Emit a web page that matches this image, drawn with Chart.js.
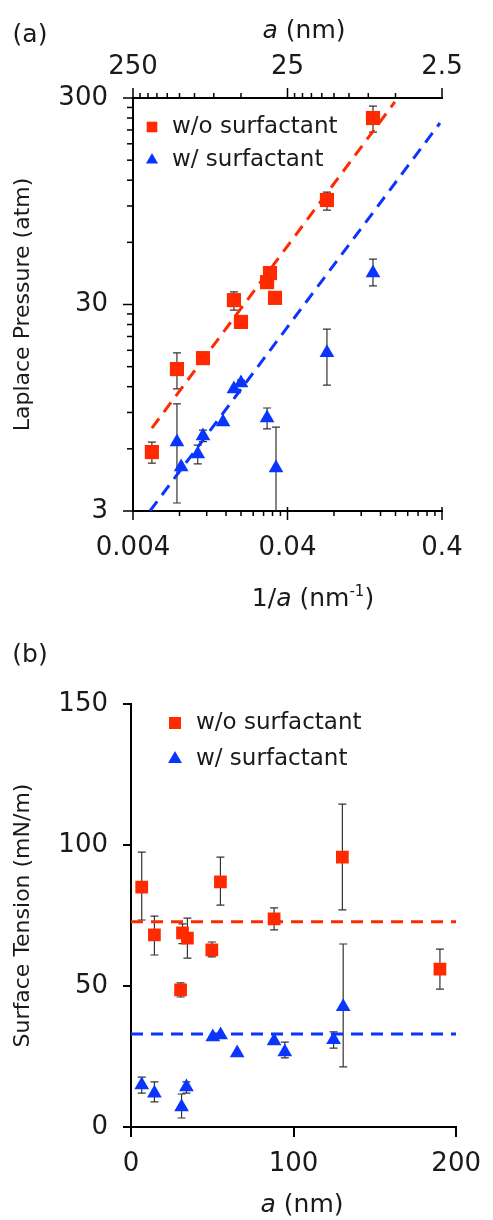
<!DOCTYPE html>
<html>
<head>
<meta charset="utf-8">
<script src="https://cdn.jsdelivr.net/npm/chart.js@4.4.1/dist/chart.umd.min.js"></script>
<style>
body { margin: 0; background: #fff; }
#page { position: relative; width: 493px; height: 1220px; font-family: "DejaVu Sans"; color: #1a1a1a; }
.box { position: absolute; left: 0; width: 493px; }
.lbl { position: absolute; font-size: 25px; white-space: nowrap; transform: translate(-50%, -50%); }
.lbl sup { font-size: 15px; }
</style>
</head>
<body>
<div id="page">
  <div class="box" style="top:0;height:620px"><canvas id="chartA"></canvas></div>
  <div class="box" style="top:620px;height:600px"><canvas id="chartB"></canvas></div>
  <div class="lbl" style="left:30px;top:33px">(a)</div>
  <div class="lbl" style="left:304px;top:29px"><i>a</i> (nm)</div>
  <div class="lbl" style="left:313px;top:597px">1/<i>a</i> (nm<sup>-1</sup>)</div>
  <div class="lbl" style="left:30px;top:653px">(b)</div>
  <div class="lbl" style="left:302px;top:1203px"><i>a</i> (nm)</div>
</div>
<script>
// ---- panel (a): Laplace pressure vs 1/a (log-log) ----
const invRed = [0.0053, 0.0077, 0.01135, 0.018, 0.020, 0.0295, 0.0308, 0.0332, 0.072, 0.143];
const pRed = [5.79, 14.6, 16.5, 31.5, 24.7, 38.5, 42.6, 32.3, 96.2, 240];
const pRedErr = [[5.12, 6.47], [11.7, 17.5], null, [28.2, 34.5], null, [36, 42.5], null, null, [86, 105], [205, 274]];

const invBlue = [0.0077, 0.0082, 0.0105, 0.01135, 0.0153, 0.018, 0.020, 0.0295, 0.0337, 0.072, 0.143];
const pBlue = [6.47, 4.9, 5.66, 6.92, 8.09, 11.7, 12.5, 8.46, 4.85, 17.5, 42.6];
const pBlueErr = [[3.28, 9.9], null, [5.07, 6.26], [6.5, 7.4], null, null, [12.1, 12.9], [7.49, 9.46], [2.0, 7.65], [12.2, 22.8], [36.9, 49.8]];

// dashed fit lines, endpoints
const fitRedX = [0.0053, 0.198];
const fitRedY = [7.56, 287];
const fitBlueX = [0.00515, 0.388];
const fitBlueY = [3, 227];

// axis ticks
const xMajor = [0.004, 0.04, 0.4];
const xMajorLabels = ['0.004', '0.04', '0.4'];
const xMinor = [0.008, 0.012, 0.016, 0.02, 0.024, 0.028, 0.032, 0.036, 0.08, 0.12, 0.16, 0.2, 0.24, 0.28, 0.32, 0.36];
const aMajor = [250, 25, 2.5];
const aMajorLabels = ['250', '25', '2.5'];
const aMinor = [225, 200, 175, 150, 125, 100, 75, 50, 22.5, 20, 17.5, 15, 12.5, 10, 7.5, 5];
const yMajor = [3, 30, 300];
const yMajorLabels = ['3', '30', '300'];
const yMinor = [6, 9, 12, 15, 18, 21, 24, 27, 60, 90, 120, 150, 180, 210, 240, 270];

// ---- panel (b): surface tension vs a ----
const aRed = [6.6, 14.4, 30.5, 31.7, 34.7, 49.7, 55, 88, 130, 190];
const gRed = [85.1, 68.1, 48.6, 68.8, 67.0, 62.8, 86.9, 73.8, 95.7, 56.0];
const gRedErr = [[73.4, 97.5], [61, 74.8], [46.1, 51.1], [65, 72], [59.9, 74.1], [60.3, 65.6], [78.7, 95.7], [69.9, 77.7], [77, 114.5], [48.9, 63.1]];

const aBlue = [6.6, 14.4, 31.1, 34.1, 50.3, 55.1, 65.3, 88, 94.6, 124.6, 130.5];
const gBlue = [14.9, 12.0, 7.1, 14.2, 31.9, 32.6, 26.2, 30.5, 26.6, 30.9, 42.6];
const gBlueErr = [[12, 17.7], [8.9, 16.0], [3.2, 11.7], [12, 16], null, null, null, null, [24.5, 30.1], [28, 33.7], [21.3, 64.9]];

const meanX = [0, 200];
const meanRed = [72.8, 72.8];
const meanBlue = [33, 33];

const RED = '#ff2a00';
const BLUE = '#0a35ff';
const INK = '#1a1a1a';

Chart.defaults.font.family = 'DejaVu Sans';
Chart.defaults.font.size = 26;
Chart.defaults.color = INK;

const pts = (xs, ys) => xs.map((x, i) => ({ x: x, y: ys[i] }));

// error bars drawn under the markers
const errorBars = {
  id: 'errorBars',
  beforeDatasetsDraw(chart) {
    const { ctx, chartArea } = chart;
    ctx.save();
    ctx.beginPath();
    ctx.rect(chartArea.left, chartArea.top, chartArea.width, chartArea.height);
    ctx.clip();
    ctx.strokeStyle = '#333';
    ctx.lineWidth = 1.2;
    chart.data.datasets.forEach(ds => {
      if (!ds.errors) return;
      const xs = chart.scales.x, ys = chart.scales.y;
      ds.data.forEach((pt, j) => {
        const e = ds.errors[j];
        if (!e) return;
        const x = xs.getPixelForValue(pt.x);
        const y1 = ys.getPixelForValue(e[0]);
        const y2 = ys.getPixelForValue(e[1]);
        ctx.beginPath();
        ctx.moveTo(x, y1); ctx.lineTo(x, y2);
        ctx.moveTo(x - 4, y1); ctx.lineTo(x + 4, y1);
        ctx.moveTo(x - 4, y2); ctx.lineTo(x + 4, y2);
        ctx.stroke();
      });
    });
    ctx.restore();
  }
};

// legend inside the plot
const boxLegend = {
  id: 'boxLegend',
  afterDraw(chart, args, opts) {
    const ctx = chart.ctx;
    ctx.save();
    ctx.font = '23px "DejaVu Sans"';
    ctx.textBaseline = 'middle';
    opts.items.forEach(it => {
      const ds = chart.data.datasets[it.dataset];
      ctx.fillStyle = ds.backgroundColor;
      Chart.helpers.drawPoint(ctx, { pointStyle: ds.pointStyle, radius: it.r, rotation: 0, borderWidth: 0 }, it.x, it.y);
      ctx.fillStyle = INK;
      ctx.fillText(ds.label, it.tx, it.y);
    });
    ctx.restore();
  }
};

// major + minor tick marks on the log axes
const logTicks = {
  id: 'logTicks',
  afterDraw(chart, args, opts) {
    const ctx = chart.ctx;
    ctx.save();
    ctx.strokeStyle = '#000';
    ctx.lineWidth = 1.5;
    opts.marks.forEach(m => {
      const s = chart.scales[m.scale];
      m.values.forEach(v => {
        const p = s.getPixelForValue(v);
        ctx.beginPath();
        if (m.scale === 'x2') {
          ctx.moveTo(p, s.bottom); ctx.lineTo(p, s.bottom - m.len);
        } else if (m.scale === 'x') {
          ctx.moveTo(p, s.top - m.inner); ctx.lineTo(p, s.top + m.len);
        } else {
          ctx.moveTo(s.right + m.inner, p); ctx.lineTo(s.right - m.len, p);
        }
        ctx.stroke();
      });
    });
    ctx.restore();
  }
};

const symbolSets = (xs1, ys1, e1, xs2, ys2, e2, rSq, rTri) => [
  { label: 'w/o surfactant', data: pts(xs1, ys1), errors: e1, pointStyle: 'rect', pointRadius: rSq,
    backgroundColor: RED, borderColor: RED, borderWidth: 0, order: 0 },
  { label: 'w/ surfactant', data: pts(xs2, ys2), errors: e2, pointStyle: 'triangle', pointRadius: rTri,
    backgroundColor: BLUE, borderColor: BLUE, borderWidth: 0, order: 1 }
];
const dashSet = (xs, ys, color) => ({
  data: pts(xs, ys), showLine: true, pointRadius: 0, borderColor: color, borderWidth: 3,
  borderDash: [12, 8], fill: false, order: 5
});

new Chart(document.getElementById('chartA'), {
  type: 'scatter',
  data: {
    datasets: symbolSets(invRed, pRed, pRedErr, invBlue, pBlue, pBlueErr, 10, 8.5)
      .concat([dashSet(fitRedX, fitRedY, RED), dashSet(fitBlueX, fitBlueY, BLUE)])
  },
  options: {
    responsive: true,
    maintainAspectRatio: false,
    animation: false,
    layout: { padding: { left: 0, right: 51, top: 0, bottom: 0 } },
    plugins: {
      legend: { display: false },
      tooltip: { enabled: false },
      boxLegend: { items: [
        { dataset: 0, x: 152, y: 127, r: 7.5, tx: 172 },
        { dataset: 1, x: 152, y: 160, r: 7, tx: 172 }
      ] },
      logTicks: { marks: [
        { scale: 'x', values: xMajor, len: 9, inner: 4 },
        { scale: 'x', values: xMinor, len: 5, inner: 0 },
        { scale: 'x2', values: aMajor, len: 10, inner: 0 },
        { scale: 'x2', values: aMinor, len: 5, inner: 0 },
        { scale: 'y', values: yMajor, len: 10, inner: 0 },
        { scale: 'y', values: yMinor, len: 6, inner: 0 }
      ] }
    },
    scales: {
      x: {
        type: 'logarithmic', position: 'bottom', min: 0.004, max: 0.4,
        afterFit: s => { s.height = 109; },
        afterBuildTicks: s => { s.ticks = xMajor.map(v => ({ value: v })); },
        grid: { drawOnChartArea: false, drawTicks: false },
        border: { color: '#000', width: 2 },
        ticks: { padding: 22, autoSkip: false, maxRotation: 0,
          callback: v => xMajorLabels[xMajor.indexOf(v)] }
      },
      x2: {
        type: 'logarithmic', position: 'top', min: 2.5, max: 250, reverse: true,
        afterFit: s => { s.height = 98; },
        afterBuildTicks: s => { s.ticks = aMajor.map(v => ({ value: v })); },
        grid: { drawOnChartArea: false, drawTicks: false },
        border: { color: '#000', width: 2 },
        ticks: { padding: 15, autoSkip: false, maxRotation: 0,
          callback: v => aMajorLabels[aMajor.indexOf(v)] }
      },
      y: {
        type: 'logarithmic', position: 'left', min: 3, max: 300,
        afterFit: s => { s.width = 133; },
        afterBuildTicks: s => { s.ticks = yMajor.map(v => ({ value: v })); },
        grid: { drawOnChartArea: false, drawTicks: false },
        border: { color: '#000', width: 2 },
        ticks: { padding: 25, autoSkip: false,
          callback: v => yMajorLabels[yMajor.indexOf(v)] },
        title: { display: true, text: 'Laplace Pressure (atm)', font: { size: 22 }, padding: { top: 10, bottom: 0 } }
      }
    }
  },
  plugins: [errorBars, logTicks, boxLegend]
});

new Chart(document.getElementById('chartB'), {
  type: 'scatter',
  data: {
    datasets: symbolSets(aRed, gRed, gRedErr, aBlue, gBlue, gBlueErr, 9, 8.5)
      .concat([dashSet(meanX, meanRed, RED), dashSet(meanX, meanBlue, BLUE)])
  },
  options: {
    responsive: true,
    maintainAspectRatio: false,
    animation: false,
    layout: { padding: { left: 0, right: 28, top: 84, bottom: 0 } },
    plugins: {
      legend: { display: false },
      tooltip: { enabled: false },
      boxLegend: { items: [
        { dataset: 0, x: 175, y: 103, r: 8.5, tx: 196 },
        { dataset: 1, x: 175, y: 139, r: 8, tx: 196 }
      ] }
    },
    scales: {
      x: {
        type: 'linear', min: 0, max: 200,
        afterFit: s => { s.height = 93; },
        grid: { drawOnChartArea: false, tickLength: 10, color: '#000', lineWidth: 2 },
        border: { color: '#000', width: 2 },
        ticks: { stepSize: 100, padding: 12, maxRotation: 0 }
      },
      y: {
        type: 'linear', min: 0, max: 150,
        afterFit: s => { s.width = 131; },
        grid: { drawOnChartArea: false, tickLength: 8, color: '#000', lineWidth: 2 },
        border: { color: '#000', width: 2 },
        ticks: { stepSize: 50, padding: 15 },
        title: { display: true, text: 'Surface Tension (mN/m)', font: { size: 22 }, padding: { top: 10, bottom: 0 } }
      }
    }
  },
  plugins: [errorBars, boxLegend]
});
</script>
</body>
</html>
